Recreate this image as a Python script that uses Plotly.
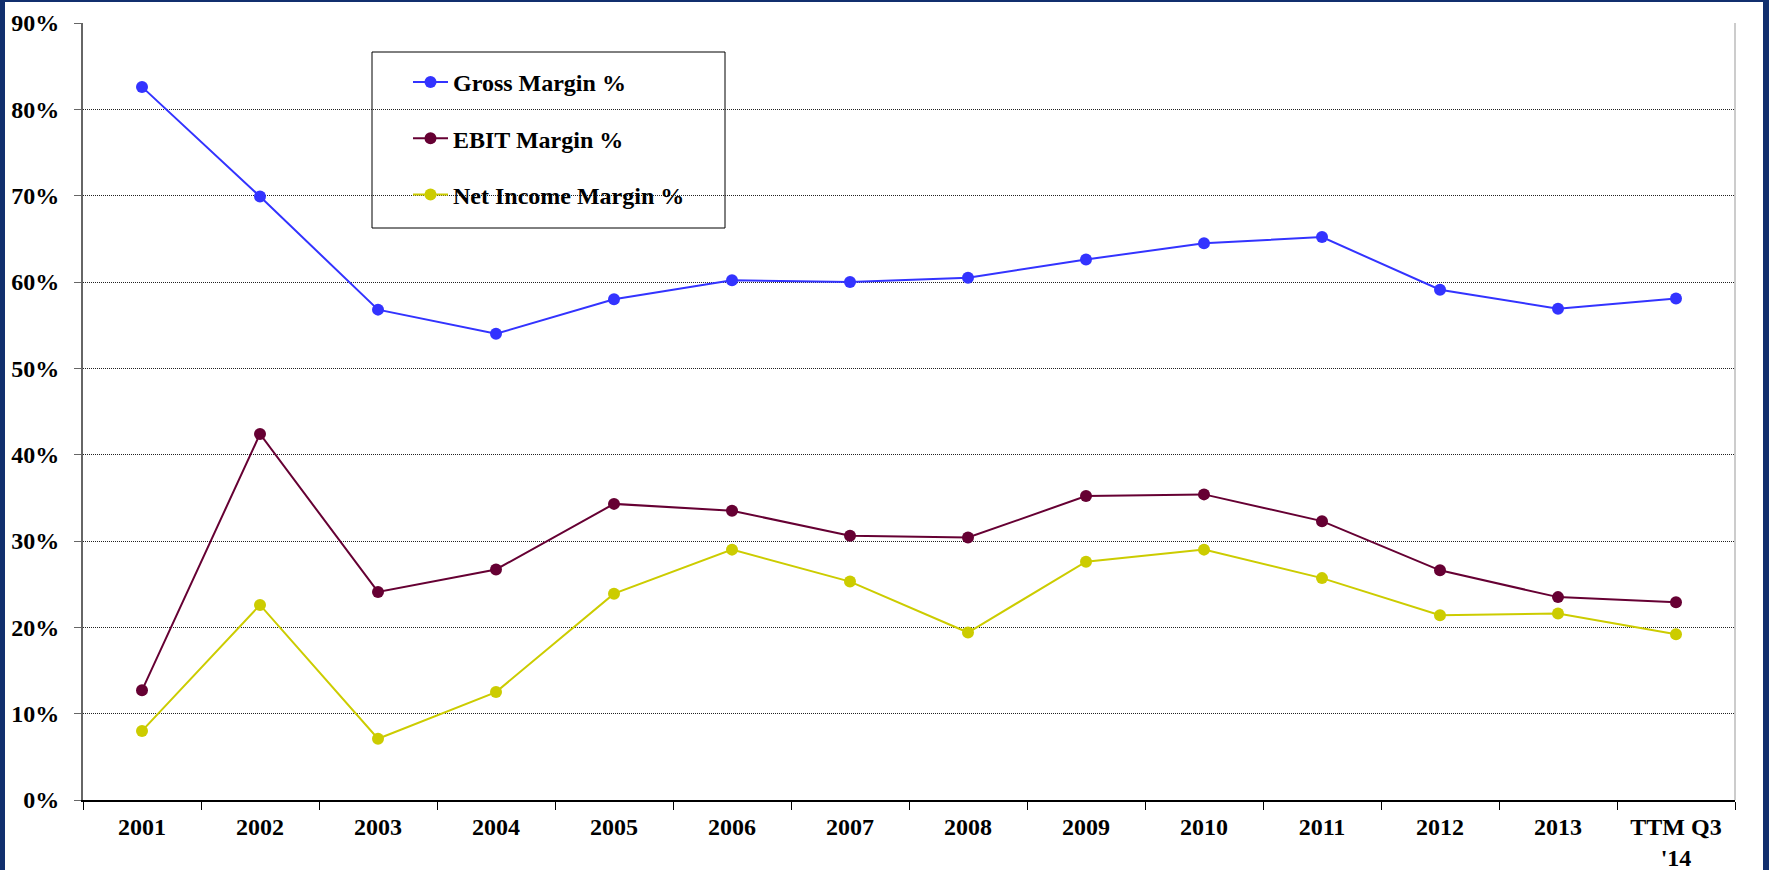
import plotly.graph_objects as go

# ---- data ----
categories = ["2001", "2002", "2003", "2004", "2005", "2006", "2007", "2008",
              "2009", "2010", "2011", "2012", "2013", "TTM Q3<br>'14"]
gross_margin = [82.6, 69.9, 56.8, 54.0, 58.0, 60.2, 60.0, 60.5, 62.6, 64.5, 65.2, 59.1, 56.9, 58.1]
ebit_margin = [12.7, 42.4, 24.1, 26.7, 34.3, 33.5, 30.6, 30.4, 35.2, 35.4, 32.3, 26.6, 23.5, 22.9]
net_margin = [8.0, 22.6, 7.1, 12.5, 23.9, 29.0, 25.3, 19.4, 27.6, 29.0, 25.7, 21.4, 21.6, 19.2]
series_names = ["Gross Margin %", "EBIT Margin %", "Net Income Margin %"]
y_ticks = [0, 10, 20, 30, 40, 50, 60, 70, 80, 90]

# ---- styling ----
W, H = 1769, 870
L, R, T, B = 83, 1735, 23, 800
FONT = "Times New Roman, Liberation Serif, serif"
colors = ["#3333FF", "#660033", "#CCCC00"]
frame_col = "#112F6E"

pw, ph = R - L, B - T
def px_x(v):
    return (v - L) / pw
def px_y(v):
    return (B - v) / ph

fig = go.Figure()
for i, (name, vals) in enumerate(zip(series_names, [gross_margin, ebit_margin, net_margin])):
    fig.add_trace(go.Scatter(
        x=categories, y=vals, name=name, mode="lines+markers",
        line=dict(color=colors[i], width=2),
        marker=dict(color=colors[i], size=12),
        legendgroup=f"g{i}",
    ))

shapes = [
    dict(type="rect", xref="paper", yref="paper", x0=px_x(0), x1=px_x(5), y0=px_y(H), y1=px_y(0),
         fillcolor=frame_col, line=dict(width=0), layer="above"),
    dict(type="rect", xref="paper", yref="paper", x0=px_x(0), x1=px_x(W), y0=px_y(2), y1=px_y(0),
         fillcolor=frame_col, line=dict(width=0), layer="above"),
    dict(type="rect", xref="paper", yref="paper", x0=px_x(1763), x1=px_x(W), y0=px_y(H), y1=px_y(0),
         fillcolor=frame_col, line=dict(width=0), layer="above"),
    dict(type="line", xref="paper", yref="paper", x0=1, x1=1, y0=0, y1=1,
         line=dict(color="#999999", width=1)),
    dict(type="rect", xref="paper", yref="paper", x0=px_x(372), x1=px_x(725), y0=px_y(228), y1=px_y(52),
         fillcolor="white", line=dict(color="black", width=1), layer="below"),
]

fig.update_layout(
    width=W, height=H, autosize=False,
    margin=dict(l=L, r=W - R, t=T, b=H - B, pad=0),
    paper_bgcolor="white", plot_bgcolor="rgba(0,0,0,0)",
    font=dict(family=FONT, size=24, color="black", weight="bold"),
    showlegend=True,
    legend=dict(
        x=px_x(408), y=px_y(60), xanchor="left", yanchor="top",
        bgcolor="rgba(0,0,0,0)", borderwidth=0,
        font=dict(family=FONT, size=24, color="black", weight="bold"),
        traceorder="grouped", tracegroupgap=22, itemwidth=35,
    ),
    shapes=shapes,
    xaxis=dict(
        type="category", range=[-0.5, len(categories) - 0.5], automargin=False,
        showgrid=False, showline=True, linecolor="black", linewidth=2,
        ticks="outside", tickson="boundaries", ticklen=8, tickcolor="black", tickwidth=1,
        ticklabelstandoff=4,
        tickfont=dict(family=FONT, size=24, color="black", weight="bold"),
        zeroline=False, fixedrange=True,
    ),
    yaxis=dict(
        range=[0, 90], tickvals=y_ticks, ticktext=[f"{v}%" for v in y_ticks], automargin=False,
        showgrid=True, gridcolor="#222222", gridwidth=1, griddash="1px,1px",
        showline=True, linecolor="#666666", linewidth=2,
        ticks="outside", ticklen=7, tickcolor="#666666", tickwidth=1,
        ticklabelstandoff=10,
        tickfont=dict(family=FONT, size=24, color="black", weight="bold"),
        zeroline=False, fixedrange=True,
    ),
)

page_fix = ("var s=document.documentElement.style;s.margin='0';s.padding='0';s.overflow='hidden';"
            "var b=document.body.style;b.margin='0';b.padding='0';b.overflow='hidden';")

fig.write_html("out.html", config={"displayModeBar": False}, post_script=page_fix)
